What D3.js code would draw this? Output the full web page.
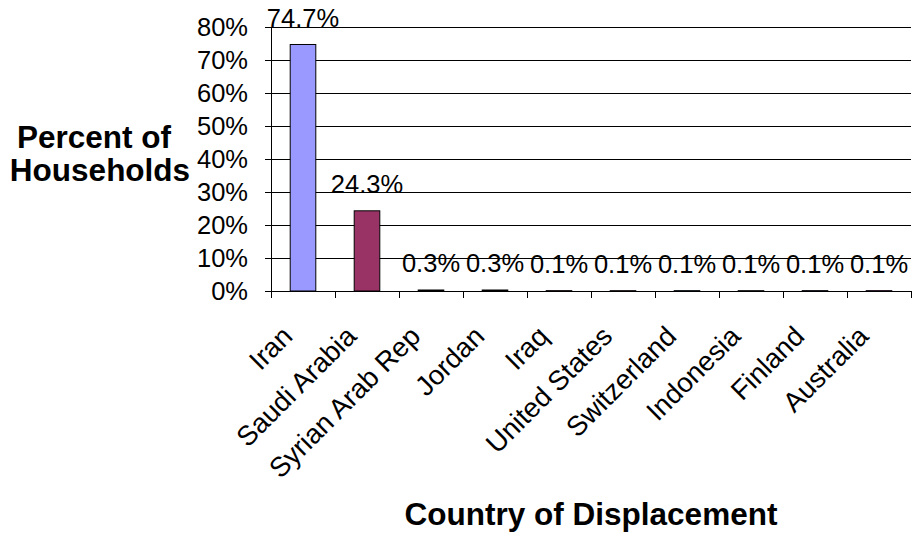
<!DOCTYPE html>
<html>
<head>
<meta charset="utf-8">
<script src="https://cdn.jsdelivr.net/npm/d3@7"></script>
<style>
  html, body { margin: 0; padding: 0; background: #fff; }
  svg { display: block; font-family: Arial, "Liberation Sans", sans-serif; }
</style>
</head>
<body>
<svg id="chart" width="913" height="537"></svg>
<script>
'use strict';

/* ── data ─────────────────────────────────── */
const countries = ['Iran', 'Saudi Arabia', 'Syrian Arab Rep', 'Jordan', 'Iraq',
                   'United States', 'Switzerland', 'Indonesia', 'Finland', 'Australia'];
const percents  = [74.7, 24.3, 0.3, 0.3, 0.1, 0.1, 0.1, 0.1, 0.1, 0.1];
const yTicks    = [0, 10, 20, 30, 40, 50, 60, 70, 80];
const barColors = ['#9999ff', '#993366', '#ffffcc', '#ccffff', '#660066',
                   '#ff8080', '#0066cc', '#ccccff', '#000080', '#ff00ff'];

/* ── layout ───────────────────────────────── */
const W = 913, H = 537;
const m = { left: 271, right: 2, top: 27, bottom: 246 };
const innerW = W - m.left - m.right;
const innerH = H - m.top - m.bottom;
const fs = 25.5;       // tick + data label size
const fsCat = 27.5;    // rotated category labels
const fsTitle = 31.5;

const svg = d3.select('#chart');
const g = svg.append('g').attr('transform', `translate(${m.left},${m.top})`);

const x = d3.scaleBand().domain(countries).range([0, innerW]).paddingInner(0.6).paddingOuter(0.3);
const xb = d3.scaleBand().domain(countries).range([0, innerW]);   // for tick positions
const y = d3.scaleLinear().domain([0, 80]).range([innerH, 0]);

/* ── gridlines ────────────────────────────── */
g.append('g').selectAll('line').data(yTicks.filter(d => d > 0)).join('line')
  .attr('x1', 0).attr('x2', innerW)
  .attr('y1', d => Math.round(y(d)) + 0.5).attr('y2', d => Math.round(y(d)) + 0.5)
  .attr('stroke', '#000').attr('stroke-width', 1);

/* ── bars ─────────────────────────────────── */
g.append('g').selectAll('rect').data(percents).join('rect')
  .attr('x', (d, i) => x(countries[i]))
  .attr('width', x.bandwidth())
  .attr('y', d => y(d))
  .attr('height', d => innerH - y(d))
  .attr('fill', (d, i) => barColors[i])
  .attr('stroke', '#000').attr('stroke-width', 1);

/* ── data labels ──────────────────────────── */
g.append('g').selectAll('text').data(percents).join('text')
  .attr('x', (d, i) => x(countries[i]) + x.bandwidth() / 2)
  .attr('y', d => y(d) - 18)
  .attr('text-anchor', 'middle')
  .attr('font-size', fs)
  .attr('fill', '#000')
  .text(d => d.toFixed(1) + '%');

/* ── y axis ───────────────────────────────── */
const yAxis = g.append('g');
yAxis.append('line')
  .attr('x1', 0.5).attr('x2', 0.5).attr('y1', 0).attr('y2', innerH + 7)
  .attr('stroke', '#000');
yAxis.selectAll('line.tk').data(yTicks).join('line').attr('class', 'tk')
  .attr('x1', -6).attr('x2', 0)
  .attr('y1', d => Math.round(y(d)) + 0.5).attr('y2', d => Math.round(y(d)) + 0.5)
  .attr('stroke', '#000');
yAxis.selectAll('text').data(yTicks).join('text')
  .attr('x', -23).attr('y', d => y(d)).attr('dy', '0.36em')
  .attr('text-anchor', 'end').attr('font-size', fs)
  .text(d => d + '%');

/* ── x axis ───────────────────────────────── */
const xAxis = g.append('g');
xAxis.append('line')
  .attr('x1', 0).attr('x2', innerW)
  .attr('y1', innerH + 0.5).attr('y2', innerH + 0.5)
  .attr('stroke', '#000');
xAxis.selectAll('line.tk').data(countries.concat(['_end'])).join('line').attr('class', 'tk')
  .attr('x1', (d, i) => Math.round(i * xb.step()) + 0.5)
  .attr('x2', (d, i) => Math.round(i * xb.step()) + 0.5)
  .attr('y1', innerH).attr('y2', innerH + 7)
  .attr('stroke', '#000');
xAxis.selectAll('text').data(countries).join('text')
  .attr('transform', d => `translate(${xb(d) + xb.bandwidth() / 2 - 9},${innerH + 47}) rotate(-45)`)
  .attr('text-anchor', 'end').attr('font-size', fsCat)
  .text(d => d);

/* ── axis titles ──────────────────────────── */
svg.append('text')
  .attr('x', m.left + innerW / 2).attr('y', 525)
  .attr('text-anchor', 'middle').attr('font-size', fsTitle).attr('font-weight', 'bold')
  .text('Country of Displacement');

const yt = svg.append('text')
  .attr('text-anchor', 'middle').attr('font-size', fsTitle).attr('font-weight', 'bold');
yt.append('tspan').attr('x', 94).attr('y', 148).text('Percent of');
yt.append('tspan').attr('x', 100).attr('y', 181).text('Households');
</script>
</body>
</html>
